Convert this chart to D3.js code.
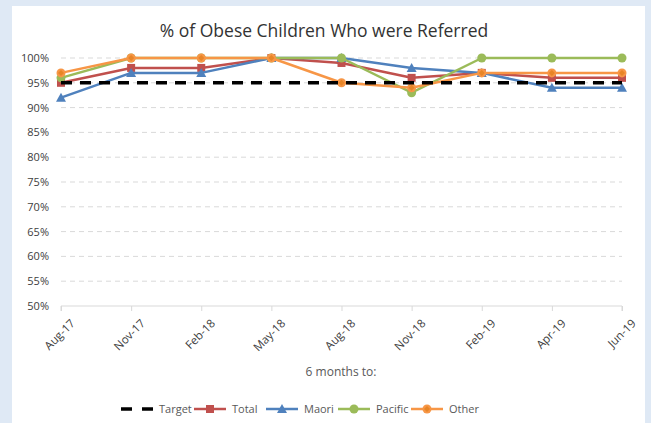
<!DOCTYPE html>
<html>
<head>
<meta charset="utf-8">
<script src="https://cdn.jsdelivr.net/npm/d3@7"></script>
<style>
  html, body { margin: 0; padding: 0; background: #dfe9f5; }
  svg { display: block; }
  text { font-family: "Open Sans", "Noto Sans", sans-serif; }
</style>
</head>
<body>
<svg id="chart" width="651" height="423"></svg>
<script>
// Reporting periods (6 months to ...)
const periods = ["Aug-17", "Nov-17", "Feb-18", "May-18", "Aug-18", "Nov-18", "Feb-19", "Apr-19", "Jun-19"];

// Percentage of obese children referred, by group
const target  = [95, 95, 95, 95, 95, 95, 95, 95, 95];
const total   = [95, 98, 98, 100, 99, 96, 97, 96, 96];
const maori   = [92, 97, 97, 100, 100, 98, 97, 94, 94];
const pacific = [96, 100, 100, 100, 100, 93, 100, 100, 100];
const other   = [97, 100, 100, 100, 95, 94, 97, 97, 97];

const yTicks = [50, 55, 60, 65, 70, 75, 80, 85, 90, 95, 100];

const series = [
  { name: "Target",  values: target,  color: "#000000", marker: null,       dashed: true },
  { name: "Total",   values: total,   color: "#c0504d", marker: "square",   dashed: false },
  { name: "Maori",   values: maori,   color: "#4f81bd", marker: "triangle", dashed: false },
  { name: "Pacific", values: pacific, color: "#9bbb59", marker: "circle",   dashed: false },
  { name: "Other",   values: other,   color: "#f79646", marker: "diamond",  dashed: false }
];

const svg = d3.select("#chart");

// white chart panel
svg.append("rect").attr("x", 12).attr("y", 6).attr("width", 633).attr("height", 420).attr("fill", "#ffffff");

const x = d3.scalePoint().domain(periods).range([61, 622]);
const y = d3.scaleLinear().domain([50, 100]).range([306, 58]);

// title
svg.append("text").attr("x", 324).attr("y", 37).attr("text-anchor", "middle")
  .attr("font-size", 17.5).attr("fill", "#333").text("% of Obese Children Who were Referred");

// gridlines
svg.append("g").selectAll("line").data(yTicks.filter(d => d > 50)).join("line")
  .attr("x1", 61).attr("x2", 622)
  .attr("y1", d => y(d)).attr("y2", d => y(d))
  .attr("stroke", "#d9d9d9").attr("stroke-width", 1).attr("stroke-dasharray", "5,4");

// y axis labels
const yAxis = d3.axisLeft(y).tickValues(yTicks).tickFormat(d => d + "%").tickSize(0).tickPadding(0);
const gy = svg.append("g").attr("transform", "translate(49,0)").call(yAxis);
gy.select(".domain").remove();
gy.selectAll("text").attr("font-size", 11).attr("fill", "#404040")
  .attr("font-family", "\"Open Sans\", sans-serif");

// x axis
const xAxis = d3.axisBottom(x).tickSize(5).tickPadding(4);
const gx = svg.append("g").attr("transform", `translate(0,${y(50)})`).call(xAxis);
gx.select(".domain").attr("stroke", "#d9d9d9").attr("d", `M61,5V0H622V5`);
gx.selectAll(".tick line").attr("stroke", "#d9d9d9");
gx.selectAll("text")
  .attr("font-size", 11.5).attr("fill", "#404040")
  .attr("font-family", "\"Open Sans\", sans-serif")
  .attr("text-anchor", "end")
  .attr("dy", "0.35em")
  .attr("transform", "translate(5,9) rotate(-45)");

// x axis title
svg.append("text").attr("x", 341).attr("y", 376).attr("text-anchor", "middle")
  .attr("font-size", 12).attr("fill", "#595959").text("6 months to:");

// marker drawing
function drawMarker(g, type, cx, cy, color) {
  if (type === "square") {
    g.append("rect").attr("x", cx - 4).attr("y", cy - 4).attr("width", 8).attr("height", 8).attr("fill", color);
  } else if (type === "triangle") {
    g.append("path").attr("d", `M${cx},${cy - 5}L${cx + 5},${cy + 4}L${cx - 5},${cy + 4}Z`).attr("fill", color);
  } else if (type === "circle") {
    g.append("circle").attr("cx", cx).attr("cy", cy).attr("r", 4.5).attr("fill", color);
  } else if (type === "diamond") {
    g.append("circle").attr("cx", cx).attr("cy", cy).attr("r", 4.5).attr("fill", color);
    g.append("path").attr("d", `M${cx},${cy - 3}L${cx + 3},${cy}L${cx},${cy + 3}L${cx - 3},${cy}Z`)
      .attr("fill", "#e07d1a").attr("opacity", 0.7);
  }
}

const line = d3.line().x((d, i) => x(periods[i])).y(d => y(d));

// colored series first, dashed target drawn on top
const order = ["Total", "Maori", "Pacific", "Other", "Target"];
order.forEach(name => {
  const s = series.find(t => t.name === name);
  const g = svg.append("g");
  g.append("path").datum(s.values).attr("d", line)
    .attr("fill", "none").attr("stroke", s.color)
    .attr("stroke-width", s.dashed ? 3.5 : 2.5)
    .attr("stroke-dasharray", s.dashed ? "11,8" : null)
    .attr("stroke-linejoin", "round");
  if (s.marker) {
    s.values.forEach((v, i) => drawMarker(g, s.marker, x(periods[i]), y(v), s.color));
  }
});

// legend
const legendX = [121, 194, 266, 338, 411];
series.forEach((s, i) => {
  const lx = legendX[i], ly = 409;
  const g = svg.append("g");
  g.append("line").attr("x1", lx).attr("x2", lx + 32).attr("y1", ly).attr("y2", ly)
    .attr("stroke", s.color).attr("stroke-width", s.dashed ? 3.5 : 2.5)
    .attr("stroke-dasharray", s.dashed ? "11,10" : null);
  if (s.marker) drawMarker(g, s.marker, lx + 16, ly, s.color);
  g.append("text").attr("x", lx + 38).attr("y", ly + 4).attr("font-size", 11)
    .attr("fill", "#595959").text(s.name);
});
</script>
</body>
</html>
